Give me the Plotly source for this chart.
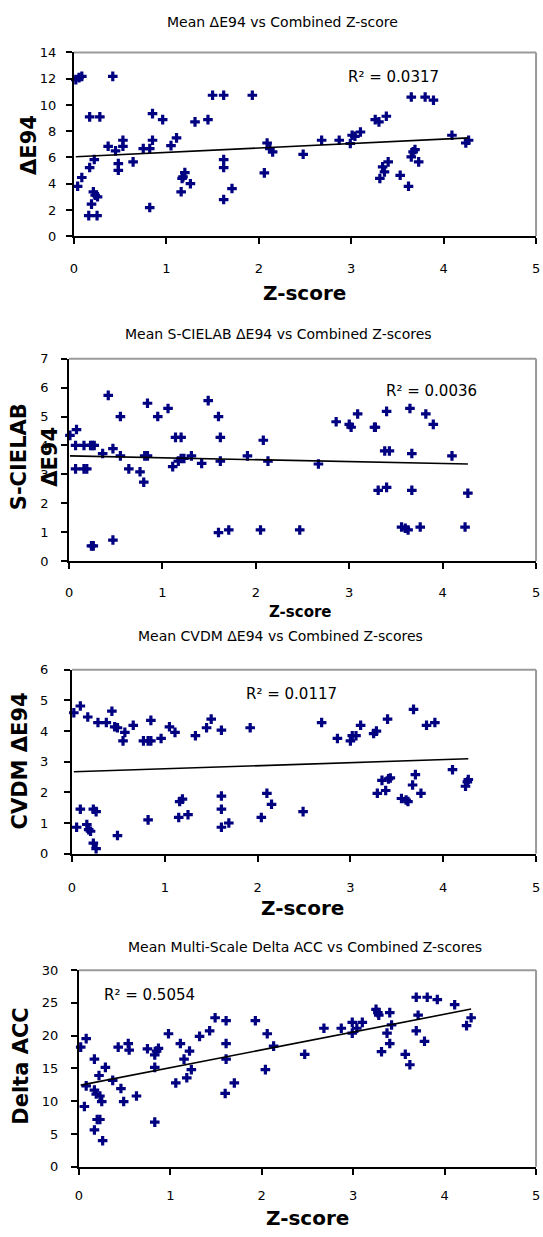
import plotly.graph_objects as go

# ---------------- data ----------------
p1_x = [0.02,0.055,0.085,0.04,0.085,0.17,0.28,0.17,0.19,0.16,0.25,0.21,0.23,0.255,0.22,0.37,0.42,0.45,0.48,0.48,
        0.53,0.53,0.64,0.75,0.82,0.85,0.82,0.85,0.96,1.05,1.11,1.31,1.16,1.18,1.2,1.17,1.26,1.45,1.5,1.62,
        1.62,1.62,1.62,1.71,1.93,2.06,2.09,2.12,2.15,2.48,2.68,2.87,2.99,3.01,3.04,3.1,3.26,3.3,3.38,3.31,
        3.34,3.36,3.4,3.53,3.62,3.65,3.65,3.67,3.69,3.73,3.8,3.89,4.09,4.24,4.27]
p1_y = [11.93,12.08,12.18,3.8,4.47,9.09,9.09,5.23,2.44,1.57,1.57,3.38,3.12,3.0,5.84,6.85,12.18,6.5,5.53,5.02,
        7.31,6.85,5.66,6.67,6.67,7.31,2.18,9.34,8.88,6.9,7.49,8.71,3.38,4.52,4.85,4.4,4.0,8.88,10.74,10.74,
        5.84,5.23,2.79,3.63,10.74,4.82,7.1,6.67,6.42,6.24,7.31,7.31,7.06,7.69,7.61,7.94,8.88,8.71,9.14,4.4,
        5.28,4.9,5.66,4.64,3.8,10.6,6.04,6.42,6.6,5.66,10.6,10.36,7.69,7.1,7.31]

p2_x = [0.01,0.08,0.07,0.07,0.16,0.16,0.19,0.23,0.25,0.27,0.24,0.26,0.36,0.42,0.47,0.47,0.55,0.55,0.64,0.76,
        0.8,0.84,0.81,0.84,0.95,1.06,1.11,1.14,1.2,1.17,1.2,1.23,1.31,1.42,1.49,1.6,1.62,1.62,1.6,1.71,
        1.91,2.05,2.08,2.13,2.47,2.67,2.86,3.0,3.02,3.09,3.27,3.28,3.31,3.4,3.38,3.43,3.4,3.56,3.6,3.63,
        3.65,3.67,3.67,3.76,3.82,3.9,4.1,4.24,4.27]
p2_y = [4.35,4.55,4.0,3.19,4.0,3.19,3.19,4.0,4.0,4.0,0.53,0.53,3.72,5.73,3.89,0.73,5.0,3.64,3.19,3.09,
        2.73,5.46,3.64,3.64,5.0,5.28,3.27,4.28,4.28,3.46,3.55,3.55,3.64,3.38,5.55,5.0,4.28,3.46,0.99,1.08,
        3.64,1.08,4.18,3.46,1.08,3.36,4.82,4.73,4.63,5.09,4.63,4.63,2.45,5.18,3.81,3.81,2.55,1.18,1.14,1.08,
        5.28,3.72,2.45,1.18,5.09,4.73,3.64,1.18,2.35]

p3_x = [0.02,0.09,0.17,0.28,0.37,0.43,0.46,0.49,0.55,0.57,0.66,0.77,0.82,0.85,0.85,0.96,1.05,1.11,1.33,1.45,
        1.5,1.61,1.92,2.69,2.86,3.0,3.02,3.06,3.11,3.25,3.28,3.4,3.68,3.82,3.91,
        0.05,0.09,0.16,0.18,0.2,0.23,0.26,0.23,0.26,0.49,0.82,1.15,1.16,1.19,1.25,1.61,1.61,1.61,1.69,
        2.04,2.1,2.15,2.49,3.29,3.34,3.38,3.41,3.43,3.55,3.6,3.62,3.67,3.7,3.76,4.1,4.24,4.26,4.27]
p3_y = [4.6,4.82,4.46,4.28,4.28,4.65,4.14,4.11,3.68,3.96,4.19,3.68,3.68,3.68,4.35,3.76,4.14,3.96,3.85,4.11,
        4.39,4.03,4.11,4.28,3.76,3.68,3.85,3.85,4.19,3.92,4.0,4.39,4.71,4.19,4.28,
        0.86,1.45,0.95,0.78,0.73,1.45,1.37,0.34,0.16,0.59,1.1,1.18,1.7,1.78,1.27,1.88,1.45,0.86,1.0,
        1.18,1.97,1.61,1.37,1.97,2.39,2.06,2.44,2.47,1.8,1.75,1.7,2.24,2.58,1.97,2.74,2.2,2.34,2.42]

p4_x = [0.02,0.08,0.06,0.08,0.17,0.17,0.19,0.17,0.2,0.23,0.22,0.23,0.25,0.26,0.29,0.37,0.43,0.46,0.49,0.54,
        0.55,0.63,0.75,0.83,0.85,0.87,0.83,0.83,0.98,1.06,1.11,1.15,1.18,1.21,1.23,1.32,1.43,1.49,1.61,1.61,
        1.61,1.6,1.7,1.93,2.04,2.06,2.13,2.47,2.68,2.87,2.99,2.99,3.04,3.1,3.25,3.27,3.28,3.4,3.42,3.37,
        3.31,3.4,3.57,3.62,3.69,3.71,3.69,3.78,3.81,3.92,4.11,4.24,4.29]
p4_y = [18.26,19.55,9.2,12.34,16.42,11.69,11.1,5.62,7.21,7.21,13.93,10.8,9.95,3.98,15.17,13.18,18.26,11.94,9.95,18.8,
        17.81,10.8,18.0,17.06,17.66,18.06,15.17,6.82,20.3,12.79,18.8,16.42,13.58,17.66,14.83,19.9,20.75,22.74,22.29,18.8,
        16.42,11.19,12.79,22.29,14.83,20.3,18.41,17.16,21.14,21.14,22.04,20.4,21.14,22.04,24.03,23.53,23.13,23.53,21.64,20.4,
        17.56,18.8,17.16,15.57,25.87,23.13,20.75,19.15,25.87,25.52,24.73,21.54,22.74]

# linear trendlines (intercept, slope) as drawn
trend_intercept = [6.04, 3.64, 2.67, 12.4]
trend_slope = [0.34, -0.066, 0.10, 2.72]

r2_labels = ["R² = 0.0317", "R² = 0.0036", "R² = 0.0117", "R² = 0.5054"]
titles = ["Mean ΔE94 vs Combined Z-score",
          "Mean S-CIELAB ΔE94 vs Combined Z-scores",
          "Mean CVDM ΔE94 vs Combined Z-scores",
          "Mean Multi-Scale Delta ACC vs Combined Z-scores"]
y_max = [14, 7, 6, 30]
y_dtick = [2, 1, 1, 5]
x_ticks = [0, 1, 2, 3, 4, 5]

# ---------------- layout helpers ----------------
W, H = 543, 1237
def px(xp):
    return xp / W
def py(yp):
    return 1 - yp / H

FONT = "DejaVu Sans"
NAVY = "#000080"

# plot-area boxes in pixels: left, right, top, bottom
boxes = [(71, 540, 46, 232), (66, 540, 356, 561), (69, 540, 671, 857), (76, 540, 975, 1174)]
xstand = [13, 12, 15, 10]
ystand = [7, 10, 13, 10]

series = [(p1_x, p1_y), (p2_x, p2_y), (p3_x, p3_y), (p4_x, p4_y)]

fig = go.Figure()
layout = dict(width=W, height=H, margin=dict(l=0, r=0, t=0, b=0, pad=0),
              paper_bgcolor="white", plot_bgcolor="white", showlegend=False,
              font=dict(family=FONT, color="black"))
shapes = []
annotations = []

for i, (xs, ys) in enumerate(series):
    n = i + 1
    xa = "x" if n == 1 else f"x{n}"
    ya = "y" if n == 1 else f"y{n}"
    fig.add_trace(go.Scatter(x=xs, y=ys, mode="markers", xaxis=xa, yaxis=ya,
                             marker=dict(symbol="cross", size=8, color=NAVY),
                             cliponaxis=False, hoverinfo="x+y"))
    x0, x1 = min(xs), max(xs)
    fig.add_trace(go.Scatter(x=[x0, x1],
                             y=[trend_intercept[i] + trend_slope[i] * x0,
                                trend_intercept[i] + trend_slope[i] * x1],
                             mode="lines", xaxis=xa, yaxis=ya,
                             line=dict(color="black", width=1.6), hoverinfo="skip"))
    l, r, t, b = boxes[i]
    axis_common = dict(showgrid=False, zeroline=False, showline=True, linecolor="black", linewidth=2,
                       ticks="outside", ticklen=6, tickwidth=1.5, tickcolor="black",
                       tickfont=dict(family=FONT, size=13, color="black"), mirror=False,
                       ticklabeloverflow="allow")
    layout["xaxis" if n == 1 else f"xaxis{n}"] = dict(
        domain=[px(l), px(r)], anchor=ya, range=[0, 5], tickvals=x_ticks,
        ticklabelstandoff=xstand[i], **axis_common)
    layout["yaxis" if n == 1 else f"yaxis{n}"] = dict(
        domain=[py(b), py(t)], anchor=xa, range=[0, y_max[i]], dtick=y_dtick[i], tick0=0,
        ticklabelstandoff=ystand[i], **axis_common)
    # gray plot-area border (top & right)
    shapes.append(dict(type="line", xref=f"{xa} domain", yref=f"{ya} domain", x0=0, x1=1, y0=1, y1=1,
                       line=dict(color="#9a9a9a", width=2), layer="above"))
    shapes.append(dict(type="line", xref=f"{xa} domain", yref=f"{ya} domain", x0=1, x1=1, y0=0, y1=1,
                       line=dict(color="#9a9a9a", width=2), layer="above"))

def ann(text, x, y, size, bold=False, angle=0):
    annotations.append(dict(text=f"<b>{text}</b>" if bold else text, x=px(x), y=py(y),
                            xref="paper", yref="paper", showarrow=False, textangle=angle,
                            xanchor="center", yanchor="middle",
                            font=dict(family=FONT, size=size, color="black")))

# titles
ann(titles[0], 283, 15, 14)
ann(titles[1], 279, 331, 14)
ann(titles[2], 281, 637, 14)
ann(titles[3], 306, 952, 14)
# R² labels
ann(r2_labels[0], 395, 71, 15)
ann(r2_labels[1], 434, 389, 15)
ann(r2_labels[2], 292, 695, 15)
ann(r2_labels[3], 148, 1000, 15)
# x-axis titles
ann("Z-score", 305, 290, 20, bold=True)
ann("Z-score", 301, 612, 15, bold=True)
ann("Z-score", 303, 912, 20, bold=True)
ann("Z-score", 308, 1226, 20, bold=True)
# y-axis titles
ann("ΔE94", 26, 140, 21, bold=True, angle=-90)
ann("S-CIELAB", 16, 455, 21, bold=True, angle=-90)
ann("ΔE94", 47, 455, 21, bold=True, angle=-90)
ann("CVDM ΔE94", 16, 763, 21, bold=True, angle=-90)
ann("Delta ACC", 17, 1072, 21, bold=True, angle=-90)

layout["shapes"] = shapes
layout["annotations"] = annotations
fig.update_layout(**layout)
fig.write_html("out.html", config={"displayModeBar": False},
               post_script="document.body.style.margin='0px';document.body.style.overflow='hidden';")
